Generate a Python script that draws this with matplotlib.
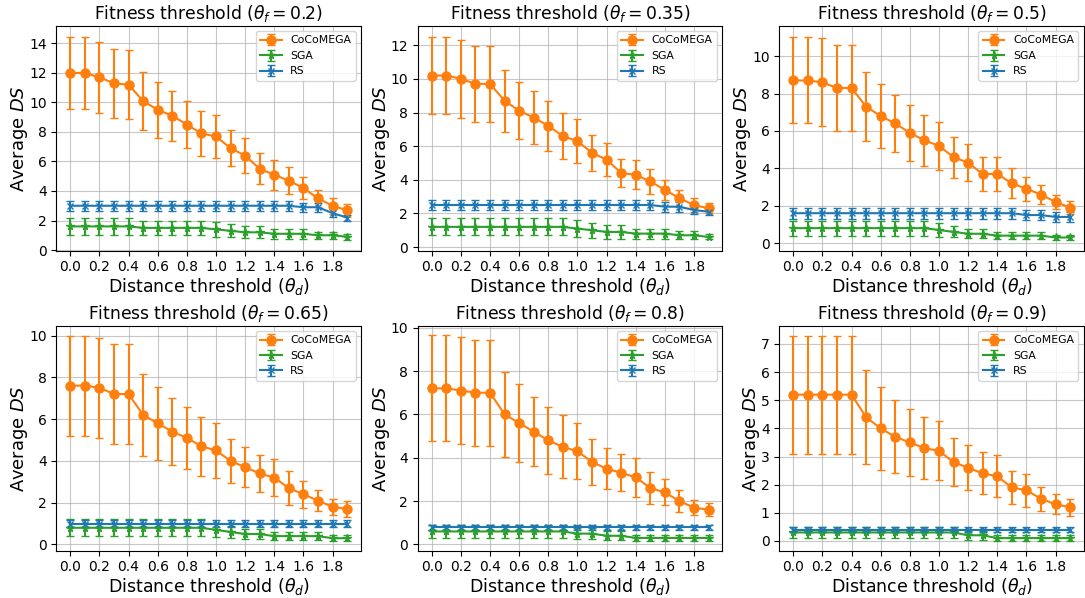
import numpy as np
import matplotlib
matplotlib.use("Agg")
import matplotlib.pyplot as plt

# Distance thresholds (x axis)
theta_d = [round(0.1 * i, 1) for i in range(20)]

# Fitness thresholds, one panel each
theta_f = ["0.2", "0.35", "0.5", "0.65", "0.8", "0.9"]

# y-axis ranges of the panels
y_ranges = [(-0.05, 15.2), (-0.22, 13.16), (-0.41, 11.63),
            (-0.30, 10.47), (-0.29, 10.09), (-0.35, 7.65)]

# CoCoMEGA mean / std per panel
coco_mean = [
    [12.0, 12.0, 11.7, 11.3, 11.2, 10.1, 9.5, 9.1, 8.5, 7.9, 7.7, 6.9, 6.4, 5.5, 5.1, 4.7, 4.2, 3.5, 3.0, 2.7],
    [10.2, 10.2, 10.0, 9.7, 9.7, 8.7, 8.1, 7.7, 7.2, 6.6, 6.3, 5.6, 5.2, 4.4, 4.3, 3.9, 3.4, 2.9, 2.5, 2.3],
    [8.7, 8.7, 8.6, 8.3, 8.3, 7.3, 6.8, 6.4, 5.9, 5.5, 5.2, 4.6, 4.3, 3.7, 3.7, 3.2, 2.9, 2.6, 2.2, 1.9],
    [7.6, 7.6, 7.5, 7.2, 7.2, 6.2, 5.8, 5.4, 5.1, 4.7, 4.5, 4.0, 3.7, 3.4, 3.2, 2.7, 2.4, 2.1, 1.8, 1.7],
    [7.2, 7.2, 7.1, 7.0, 7.0, 6.0, 5.6, 5.2, 4.8, 4.5, 4.3, 3.8, 3.5, 3.3, 3.1, 2.6, 2.4, 2.0, 1.7, 1.6],
    [5.2, 5.2, 5.2, 5.2, 5.2, 4.4, 4.0, 3.7, 3.5, 3.3, 3.2, 2.8, 2.6, 2.4, 2.3, 1.9, 1.8, 1.5, 1.3, 1.2],
]
coco_std = [
    [2.45, 2.45, 2.4, 2.35, 2.35, 1.95, 1.9, 1.7, 1.6, 1.5, 1.45, 1.2, 1.2, 1.05, 1.0, 0.9, 0.77, 0.6, 0.55, 0.45],
    [2.3, 2.3, 2.3, 2.25, 2.25, 1.85, 1.7, 1.55, 1.5, 1.35, 1.3, 1.05, 1.0, 0.85, 0.87, 0.75, 0.6, 0.5, 0.4, 0.3],
    [2.3, 2.3, 2.35, 2.3, 2.3, 1.85, 1.7, 1.5, 1.5, 1.35, 1.3, 1.1, 1.0, 0.9, 0.9, 0.8, 0.65, 0.5, 0.4, 0.35],
    [2.4, 2.4, 2.4, 2.4, 2.4, 1.95, 1.75, 1.6, 1.5, 1.4, 1.3, 1.05, 0.95, 0.9, 0.9, 0.8, 0.65, 0.5, 0.4, 0.4],
    [2.45, 2.45, 2.45, 2.45, 2.45, 1.95, 1.8, 1.6, 1.55, 1.45, 1.3, 1.05, 0.95, 0.85, 0.9, 0.75, 0.6, 0.5, 0.35, 0.3],
    [2.1, 2.1, 2.1, 2.1, 2.1, 1.68, 1.48, 1.3, 1.2, 1.1, 1.05, 0.85, 0.8, 0.75, 0.75, 0.6, 0.58, 0.43, 0.35, 0.3],
]

# SGA mean / std per panel
sga_mean = [
    [1.6, 1.6, 1.6, 1.6, 1.6, 1.5, 1.5, 1.5, 1.5, 1.5, 1.4, 1.3, 1.2, 1.2, 1.1, 1.1, 1.1, 1.0, 1.0, 0.9],
    [1.2, 1.2, 1.2, 1.2, 1.2, 1.2, 1.2, 1.2, 1.2, 1.2, 1.1, 1.0, 0.9, 0.9, 0.8, 0.8, 0.8, 0.7, 0.7, 0.6],
    [0.8, 0.8, 0.8, 0.8, 0.8, 0.8, 0.8, 0.8, 0.8, 0.8, 0.7, 0.6, 0.5, 0.5, 0.4, 0.4, 0.4, 0.4, 0.3, 0.3],
    [0.8, 0.8, 0.8, 0.8, 0.8, 0.8, 0.8, 0.8, 0.8, 0.8, 0.7, 0.6, 0.5, 0.5, 0.4, 0.4, 0.4, 0.4, 0.3, 0.3],
    [0.6, 0.6, 0.6, 0.6, 0.6, 0.6, 0.6, 0.6, 0.6, 0.6, 0.5, 0.5, 0.4, 0.4, 0.3, 0.3, 0.3, 0.3, 0.3, 0.3],
    [0.3, 0.3, 0.3, 0.3, 0.3, 0.3, 0.3, 0.3, 0.3, 0.3, 0.3, 0.3, 0.2, 0.2, 0.1, 0.1, 0.1, 0.1, 0.1, 0.1],
]
sga_std = [
    [0.55, 0.55, 0.55, 0.55, 0.55, 0.5, 0.5, 0.5, 0.5, 0.5, 0.5, 0.45, 0.4, 0.4, 0.35, 0.35, 0.35, 0.25, 0.25, 0.2],
    [0.5, 0.5, 0.5, 0.5, 0.5, 0.5, 0.5, 0.5, 0.5, 0.5, 0.5, 0.45, 0.4, 0.4, 0.3, 0.3, 0.3, 0.25, 0.25, 0.15],
    [0.4, 0.4, 0.4, 0.4, 0.4, 0.4, 0.4, 0.4, 0.4, 0.4, 0.35, 0.3, 0.25, 0.25, 0.2, 0.2, 0.2, 0.2, 0.15, 0.15],
    [0.4, 0.4, 0.4, 0.4, 0.4, 0.4, 0.4, 0.4, 0.4, 0.4, 0.35, 0.3, 0.25, 0.25, 0.2, 0.2, 0.2, 0.2, 0.15, 0.15],
    [0.3, 0.3, 0.3, 0.3, 0.3, 0.3, 0.3, 0.3, 0.3, 0.3, 0.25, 0.25, 0.2, 0.2, 0.15, 0.15, 0.15, 0.15, 0.15, 0.15],
    [0.2, 0.2, 0.2, 0.2, 0.2, 0.2, 0.2, 0.2, 0.2, 0.2, 0.2, 0.2, 0.15, 0.15, 0.1, 0.1, 0.1, 0.1, 0.1, 0.1],
]

# RS mean / std per panel
rs_mean = [
    [3.0] * 16 + [2.9, 2.9, 2.5, 2.2],
    [2.5] * 16 + [2.4, 2.4, 2.2, 2.1],
    [1.6] * 16 + [1.5, 1.5, 1.4, 1.4],
    [1.0] * 20,
    [0.8] * 20,
    [0.4] * 20,
]
rs_std = [
    [0.35] * 16 + [0.3, 0.3, 0.25, 0.2],
    [0.3] * 16 + [0.3, 0.3, 0.25, 0.2],
    [0.3] * 16 + [0.25, 0.25, 0.25, 0.25],
    [0.15] * 20,
    [0.12] * 20,
    [0.1] * 20,
]

fig, axes = plt.subplots(2, 3, figsize=(10.85, 5.98), dpi=100)
fig.subplots_adjust(left=0.052, right=0.999, top=0.957, bottom=0.079,
                    wspace=0.187, hspace=0.333)

for k, ax in enumerate(axes.flat):
    ax.errorbar(theta_d, coco_mean[k], yerr=coco_std[k], color="tab:orange",
                marker="o", markersize=6.5, capsize=2.8, label="CoCoMEGA")
    ax.errorbar(theta_d, sga_mean[k], yerr=sga_std[k], color="tab:green",
                marker="*", markersize=5.5, capsize=2.8, label="SGA")
    ax.errorbar(theta_d, rs_mean[k], yerr=rs_std[k], color="tab:blue",
                marker="x", markersize=5, capsize=2.8, label="RS")
    ax.set_title(r"Fitness threshold ($\theta_f = %s$)" % theta_f[k],
                 fontsize=12.3, pad=5)
    ax.set_xlabel(r"Distance threshold ($\theta_d$)", fontsize=12.5, labelpad=1)
    ax.set_ylabel(r"Average $DS$", fontsize=12.9, labelpad=-1)
    ax.set_xticks(np.arange(0, 1.95, 0.2))
    ax.set_ylim(*y_ranges[k])
    ax.tick_params(labelsize=10)
    ax.grid(True, color="#b0b0b0", alpha=0.7)
    ax.legend(loc="upper right", fontsize=7.8)

fig.savefig("out.png", dpi=100)
